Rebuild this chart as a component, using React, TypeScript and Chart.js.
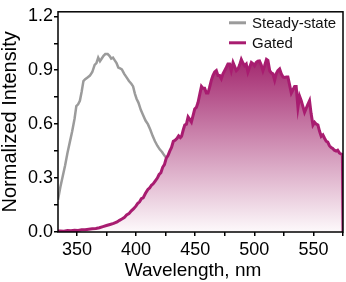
import React, { useEffect, useRef } from "react";
import { Chart, registerables } from "chart.js";

Chart.register(...registerables);

const seriesNames = ["Steady-state", "Gated"];
const xTitle = "Wavelength, nm";
const yTitle = "Normalized Intensity";

const steadyWl = [334, 336, 338, 340, 342, 344, 346, 348, 349.5, 351, 352.5, 354, 355.5, 357, 359, 361, 363, 365, 366.5, 368, 369.5, 371, 372.5, 374, 376, 377.5, 379, 380.5, 382, 383.5, 385, 386.5, 388, 390, 392, 394, 396, 397.5, 399, 400.5, 402, 404, 406, 408, 410, 412, 414, 416, 418, 420, 422, 424, 426, 428, 432];
const steadyVal = [0.18, 0.25, 0.31, 0.37, 0.44, 0.5, 0.56, 0.63, 0.7, 0.71, 0.73, 0.78, 0.84, 0.85, 0.86, 0.87, 0.89, 0.93, 0.94, 0.97, 0.95, 0.965, 0.98, 0.99, 0.99, 0.98, 0.965, 0.97, 0.955, 0.94, 0.915, 0.91, 0.905, 0.88, 0.86, 0.84, 0.825, 0.81, 0.77, 0.74, 0.72, 0.68, 0.65, 0.62, 0.6, 0.57, 0.535, 0.505, 0.48, 0.46, 0.445, 0.425, 0.41, 0.4, 0.37];

const gatedWl = [333, 336, 339, 342, 345, 348, 351, 354, 357, 360, 363, 366, 369, 372, 375, 378, 381, 384, 386, 388, 390, 392, 394, 396, 398, 400, 401.5, 403, 404.5, 406, 408, 410, 411.5, 413, 414.5, 416, 418, 419.5, 421, 422.5, 424, 425.5, 427, 428.5, 430, 431.5, 433, 434.5, 436, 437.5, 438.5, 440, 441.2, 442.6, 444, 445.5, 446.8, 448.2, 449.6, 451, 452.4, 454, 455.3, 456.5, 458, 459.5, 460.8, 462, 463.7, 465, 466.5, 467.9, 469.3, 470.7, 472.1, 473.5, 474.9, 476.3, 477.7, 479.1, 480.5, 482, 483.4, 484.8, 486.2, 487.6, 489, 490.4, 491.8, 493.2, 494.6, 496, 497.5, 499, 500.2, 501.6, 503, 504.4, 505.8, 507.3, 508.7, 510.3, 511.5, 513, 514.3, 515.7, 517.2, 518.5, 519.9, 521.4, 522.8, 524.3, 525.6, 527, 528.4, 529.8, 531.3, 532.6, 534.1, 535.4, 536.9, 538.3, 539.7, 541, 542.5, 544, 545.3, 546.7, 548, 549.6, 551, 552.4, 553.8, 555.2, 556.6, 558, 559.5, 560.8, 562.1, 563.5, 565, 566.3, 567.7, 569.2, 570.5, 571.9, 573.4, 574.5, 575];
const gatedVal = [0.005, 0.006, 0.004, 0.008, 0.007, 0.01, 0.009, 0.013, 0.012, 0.015, 0.018, 0.02, 0.024, 0.03, 0.036, 0.042, 0.048, 0.056, 0.065, 0.072, 0.08, 0.095, 0.102, 0.118, 0.13, 0.145, 0.16, 0.168, 0.185, 0.19, 0.215, 0.237, 0.245, 0.26, 0.268, 0.282, 0.3, 0.32, 0.33, 0.36, 0.375, 0.41, 0.425, 0.45, 0.47, 0.505, 0.51, 0.52, 0.535, 0.525, 0.532, 0.57, 0.595, 0.6, 0.64, 0.625, 0.612, 0.648, 0.684, 0.693, 0.72, 0.77, 0.81, 0.8, 0.8, 0.773, 0.773, 0.8, 0.845, 0.87, 0.89, 0.898, 0.87, 0.87, 0.853, 0.88, 0.898, 0.915, 0.934, 0.934, 0.898, 0.943, 0.92, 0.898, 0.907, 0.93, 0.96, 0.94, 0.925, 0.934, 0.89, 0.915, 0.943, 0.935, 0.925, 0.943, 0.95, 0.952, 0.93, 0.898, 0.925, 0.96, 0.955, 0.898, 0.885, 0.88, 0.845, 0.88, 0.898, 0.907, 0.88, 0.862, 0.86, 0.862, 0.862, 0.82, 0.773, 0.79, 0.81, 0.81, 0.693, 0.755, 0.73, 0.7, 0.666, 0.69, 0.71, 0.73, 0.66, 0.595, 0.61, 0.6, 0.595, 0.56, 0.532, 0.54, 0.52, 0.505, 0.5, 0.48, 0.47, 0.465, 0.455, 0.45, 0.455, 0.44, 0.434, 0.43, 0.0];

const xMin = 334;
const xMax = 575;
const yMin = 0;
const yMax = 1.225;

const GRAY = "rgb(155,155,155)";
const MAGENTA = "rgb(168,28,112)";
const FONT = "'Liberation Sans', Arial, Helvetica, sans-serif";

const framePlugin = {
  id: "frame",
  afterDatasetsDraw(chart: any) {
    const { ctx, chartArea } = chart;
    ctx.save();
    ctx.strokeStyle = "#000";
    ctx.lineWidth = 1.5;
    ctx.strokeRect(chartArea.left, chartArea.top, chartArea.right - chartArea.left, chartArea.bottom - chartArea.top);
    ctx.restore();
  },
};

const xTitlePlugin = {
  id: "xTitle",
  afterDraw(chart: any) {
    const { ctx, chartArea } = chart;
    ctx.save();
    ctx.font = `19px ${FONT}`;
    ctx.fillStyle = "#000";
    ctx.textAlign = "center";
    ctx.textBaseline = "alphabetic";
    ctx.fillText(xTitle, chartArea.left + 135, chartArea.bottom + 44);
    ctx.restore();
  },
};

const legendPlugin = {
  id: "customLegend",
  afterDraw(chart: any) {
    const { ctx, chartArea } = chart;
    const colors = [GRAY, MAGENTA];
    ctx.save();
    ctx.font = `15px ${FONT}`;
    ctx.textBaseline = "middle";
    ctx.textAlign = "left";
    seriesNames.forEach((name, i) => {
      const y = chartArea.top + 11 + i * 20;
      const x0 = chartArea.right - 114;
      ctx.strokeStyle = colors[i];
      ctx.lineWidth = 3;
      ctx.beginPath();
      ctx.moveTo(x0, y);
      ctx.lineTo(x0 + 17, y);
      ctx.stroke();
      ctx.fillStyle = "#111";
      ctx.fillText(name, x0 + 23, y + 1);
    });
    ctx.restore();
  },
};

export default function App() {
  const ref = useRef<HTMLCanvasElement | null>(null);

  useEffect(() => {
    if (!ref.current) return;
    const steady = steadyWl.map((x, i) => ({ x, y: steadyVal[i] }));
    const gated = gatedWl.map((x, i) => ({ x, y: gatedVal[i] }));

    const chart = new Chart(ref.current, {
      type: "line",
      data: {
        datasets: [
          {
            label: seriesNames[0],
            data: steady,
            borderColor: GRAY,
            borderWidth: 2.5,
            pointRadius: 0,
            fill: false,
            tension: 0,
            order: 2,
          },
          {
            label: seriesNames[1],
            data: gated,
            borderColor: MAGENTA,
            borderWidth: 3,
            pointRadius: 0,
            tension: 0,
            order: 1,
            fill: "origin",
            backgroundColor: (c: any) => {
              const ch = c.chart;
              const area = ch.chartArea;
              if (!area) return "rgba(0,0,0,0)";
              const y1 = ch.scales.y.getPixelForValue(0.95);
              const y0 = ch.scales.y.getPixelForValue(0);
              const g = ch.ctx.createLinearGradient(0, y1, 0, y0);
              g.addColorStop(0, "rgb(164,42,112)");
              g.addColorStop(1, "rgb(253,249,251)");
              return g;
            },
          },
        ],
      },
      options: {
        animation: false,
        responsive: false,
        maintainAspectRatio: false,
        layout: { padding: { top: 2, right: 2, left: 0, bottom: 0 } },
        plugins: { legend: { display: false }, tooltip: { enabled: false } },
        scales: {
          x: {
            type: "linear",
            min: xMin,
            max: xMax,
            afterFit: (s: any) => {
              s.height = 50;
            },
            border: { display: false },
            grid: {
              drawOnChartArea: false,
              drawTicks: true,
              tickLength: 4,
              color: "#000",
              lineWidth: 1.5,
            },
            ticks: {
              stepSize: 25,
              includeBounds: false,
              autoSkip: false,
              maxRotation: 0,
              padding: 3,
              color: "#000",
              font: { size: 18, family: FONT },
              callback: (v: any) => (Number(v) % 50 === 0 ? String(v) : ""),
            },
            title: { display: false },
          },
          y: {
            type: "linear",
            min: yMin,
            max: yMax,
            afterFit: (s: any) => {
              s.width = 58;
            },
            border: { display: false },
            grid: {
              drawOnChartArea: false,
              drawTicks: true,
              tickLength: 4,
              color: "#000",
              lineWidth: 1.5,
            },
            ticks: {
              stepSize: 0.15,
              includeBounds: false,
              autoSkip: false,
              padding: 1,
              color: "#000",
              font: { size: 18, family: FONT },
              callback: (v: any) => {
                const r = Number(v) / 0.3;
                return Math.abs(r - Math.round(r)) < 1e-6 ? Number(v).toFixed(1) : "";
              },
            },
            title: {
              display: true,
              text: yTitle,
              color: "#000",
              font: { size: 20, family: FONT, lineHeight: 1 },
              padding: { top: 0, bottom: 0 },
            },
          },
        },
      },
      plugins: [framePlugin, legendPlugin, xTitlePlugin],
    });
    return () => chart.destroy();
  }, []);

  return (
    <div style={{ position: "absolute", left: 0, top: 0, width: 346, height: 282, background: "#fff" }}>
      <canvas ref={ref} width={346} height={282} style={{ width: 346, height: 282 }} />
    </div>
  );
}
